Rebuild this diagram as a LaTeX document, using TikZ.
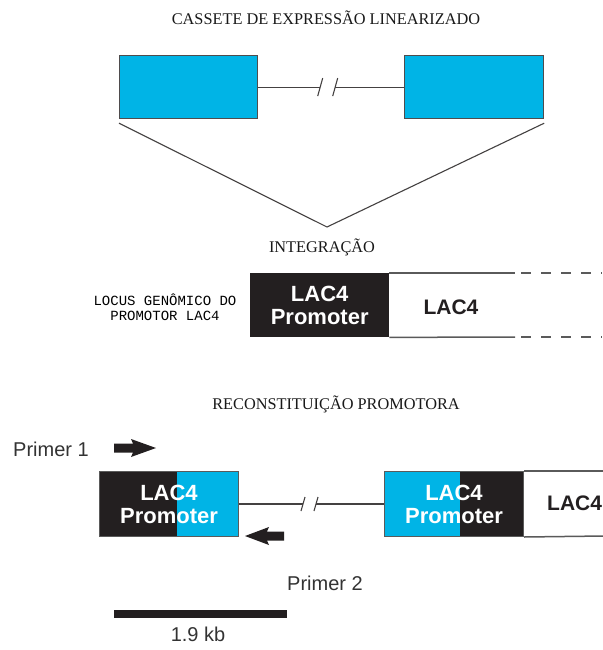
\documentclass[tikz,border=0pt]{standalone}
\usepackage{fontspec}
\setmainfont{Liberation Serif}
\newfontfamily\arialf{Liberation Sans}
\newfontfamily\monof{Liberation Mono}
\definecolor{cassblue}{RGB}{0,180,230}
\definecolor{boxblack}{RGB}{35,31,32}
\definecolor{linegray}{RGB}{90,90,90}
\tikzset{
  cbox/.style={draw=boxblack!80, line width=1.2pt, fill=cassblue, anchor=north west, inner sep=0pt},
  title/.style={font=\fontsize{16.3}{18}\selectfont, text=black!90, inner sep=0pt},
  promo/.style={anchor=north west, inner sep=0pt, text=white, align=center,
     font=\arialf\bfseries\fontsize{22}{26}\selectfont},
  gene/.style={inner sep=0pt, font=\arialf\bfseries\fontsize{21}{24}\selectfont, text=boxblack},
  lbl/.style={inner sep=0pt, font=\arialf\fontsize{20}{24}\selectfont, text=black!80},
  thin/.style={draw=boxblack!85, line width=1.1pt},
  locline/.style={draw=linegray, line width=1.5pt},
  primerfill/.style={fill=boxblack},
}
\begin{document}
\begin{tikzpicture}[x=1pt,y=-1pt]
\useasboundingbox (0,0) rectangle (602,650);
\fill[white] (0,0) rectangle (602,650);

% ---- cassette
\node[title] (t1) at (326,18) {CASSETE DE EXPRESSÃO LINEARIZADO};
\node[cbox, minimum width=138pt, minimum height=63pt] (cL) at (119,55) {};
\node[cbox, minimum width=139pt, minimum height=63pt] (cR) at (404,55) {};
\path (cL.east) ++(62,0) coordinate (b1) ++(15,0) coordinate (b2);
\draw[thin] (cL.east) -- (b1);
\draw[thin] (b2) -- (cR.west);
\draw[thin] (b1) ++(-2.5,9) -- ++(5,-18);
\draw[thin] (b2) ++(-2.5,9) -- ++(5,-18);
\coordinate (apex) at (327,227);
\draw[thin] ([yshift=-4pt]cL.south west) -- (apex) -- ([yshift=-4pt]cR.south east);

\node[title] (t2) at (322,247) {INTEGRAÇÃO};

% ---- genomic locus
\node[inner sep=0pt, align=center, font=\monof\fontsize{14}{15}\selectfont, text=black] (loc) at (165,307) {LOCUS GENÔMICO DO\\PROMOTOR LAC4};
\node[promo, fill=boxblack, minimum width=139pt, minimum height=64pt] (pbox) at (250,273) {LAC4\\[-3pt]Promoter};
\coordinate (lt1) at (515,273);
\coordinate (lt2) at (521,273);
\coordinate (lt3) at (602,273);
\coordinate (lb1) at (515,337);
\coordinate (lb2) at (521,337);
\coordinate (lb3) at (602,337);
\draw[locline] (pbox.north east) -- (lt1);
\draw[locline] (pbox.south east) -- (lb1);
\draw[locline, dash pattern=on 10pt off 10pt] (lt2) -- (lt3);
\draw[locline, dash pattern=on 10pt off 10pt] (lb2) -- (lb3);
\node[gene] (g1) at (451,307) {LAC4};

\node[title] (t3) at (336,404) {RECONSTITUIÇÃO PROMOTORA};

% ---- reconstituted promoter
\node[lbl, anchor=west] (pr1) at (13,449) {Primer 1};
\coordinate (a1s) at (114,448);
\fill[primerfill] (a1s) ++(0,-4.5) -- ++(19,0) -- ++(-2,-4.5) -- ++(25,9) -- ++(-25,9) -- ++(2,-4.5) -- ++(-19,0) -- cycle;

\fill[boxblack] (99,471) rectangle (177,536);
\fill[cassblue] (177,471) rectangle (238,536);
\node[promo, draw=linegray, line width=1pt, minimum width=139pt, minimum height=65pt] (lbox) at (99,471) {LAC4\\[-3pt]Promoter};

\fill[cassblue] (384,471) rectangle (460,536);
\fill[boxblack] (460,471) rectangle (523,536);
\node[promo, draw=linegray, line width=1pt, minimum width=139pt, minimum height=65pt] (rbox) at (384,471) {LAC4\\[-3pt]Promoter};
\coordinate (rt) at (604,471);
\coordinate (rb) at (604,536);
\draw[locline] (rbox.north east) -- (rt);
\draw[locline] (rbox.south east) -- (rb);
\node[gene, anchor=west] (g2) at (547,503) {LAC4};

\path (lbox.east) ++(64,0) coordinate (b3) ++(13,0) coordinate (b4);
\draw[thin] (lbox.east) -- (b3);
\draw[thin] (b4) -- (rbox.west);
\draw[thin] (b3) ++(-2,7) -- ++(4,-14);
\draw[thin] (b4) ++(-2,7) -- ++(4,-14);

\coordinate (a2s) at (284,536);
\fill[primerfill] (a2s) ++(0,-4.5) -- ++(-17,0) -- ++(2,-4.5) -- ++(-24,9) -- ++(24,9) -- ++(-2,-4.5) -- ++(17,0) -- cycle;
\node[lbl] (pr2) at (325,583) {Primer 2};

% ---- scale bar
\coordinate (s1) at (114,614);
\coordinate (s2) at (287,614);
\draw[boxblack, line width=8pt] (s1) -- (s2);
\node[lbl] (kb) at (198,634) {1.9 kb};
\end{tikzpicture}
\end{document}
